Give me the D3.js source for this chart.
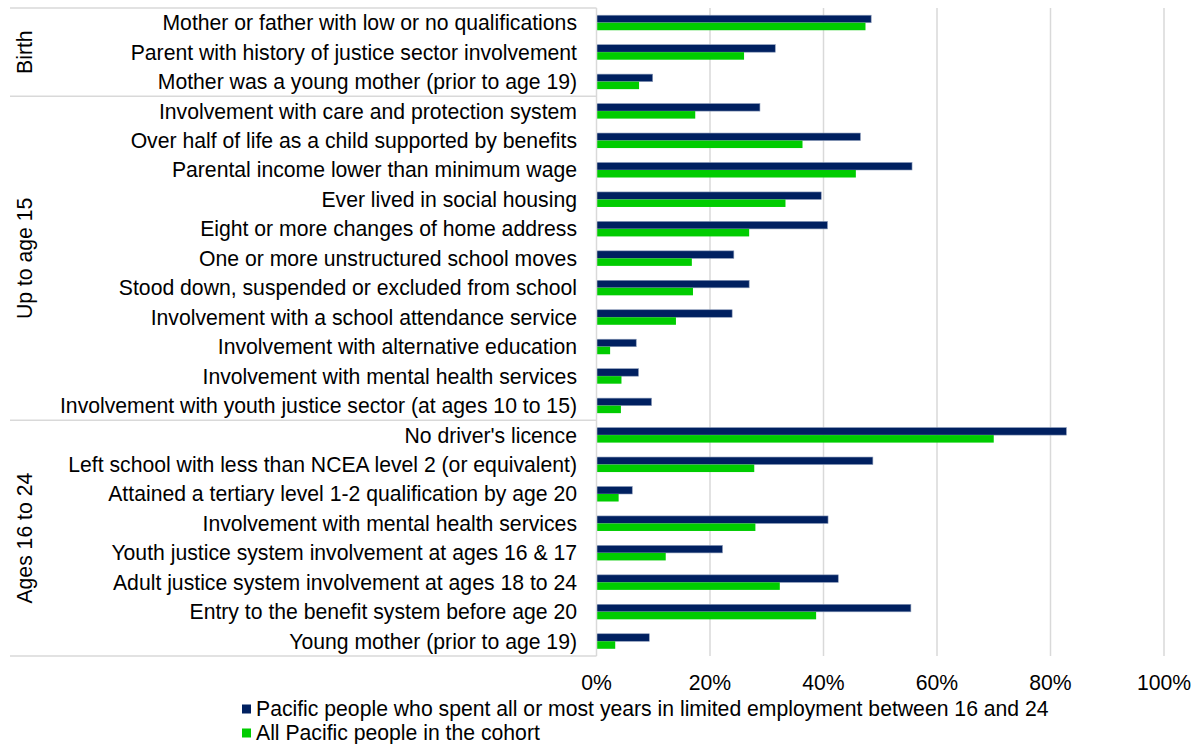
<!DOCTYPE html>
<html>
<head>
<meta charset="utf-8">
<script src="https://d3js.org/d3.v7.min.js"></script>
<style>
  body { margin: 0; background: #fff; }
  text { font-family: "Liberation Sans", Arial, sans-serif; fill: #000; }
</style>
</head>
<body>
<div id="chart"></div>
<script>
// categories, top to bottom
var categories = [
  "Mother or father with low or no qualifications",
  "Parent with history of justice sector involvement",
  "Mother was a young mother (prior to age 19)",
  "Involvement with care and protection system",
  "Over half of life as a child supported by benefits",
  "Parental income lower than minimum wage",
  "Ever lived in social housing",
  "Eight or more changes of home address",
  "One or more unstructured school moves",
  "Stood down, suspended or excluded from school",
  "Involvement with a school attendance service",
  "Involvement with alternative education",
  "Involvement with mental health services",
  "Involvement with youth justice sector (at ages 10 to 15)",
  "No driver's licence",
  "Left school with less than NCEA level 2 (or equivalent)",
  "Attained a tertiary level 1-2 qualification by age 20",
  "Involvement with mental health services",
  "Youth justice system involvement at ages 16 & 17",
  "Adult justice system involvement at ages 18 to 24",
  "Entry to the benefit system before age 20",
  "Young mother (prior to age 19)"
];
var groups = ["Birth", "Up to age 15", "Ages 16 to 24"];
var groupSizes = [3, 11, 8];

var seriesNames = [
  "Pacific people who spent all or most years in limited employment between 16 and 24",
  "All Pacific people in the cohort"
];
var limitedEmp = [48.4, 31.5, 9.9, 28.8, 46.5, 55.6, 39.6, 40.7, 24.2, 26.9, 23.9, 7.0, 7.4, 9.7,
                  82.8, 48.7, 6.3, 40.8, 22.2, 42.6, 55.4, 9.3];
var allPacific = [47.4, 26.0, 7.5, 17.4, 36.3, 45.7, 33.3, 26.9, 16.8, 17.0, 14.0, 2.4, 4.4, 4.3,
                  70.0, 27.8, 3.9, 28.0, 12.2, 32.3, 38.7, 3.3];
var xTicks = [0, 20, 40, 60, 80, 100];
var colors = ["#002060", "#00cc00"];

var width = 1200, height = 744;
var plotLeft = 596.5, plotRight = 1164, plotTop = 8, plotBottom = 656;
var fontSize = "21.2px";

var svg = d3.select("#chart").append("svg")
  .attr("width", width)
  .attr("height", height);

var x = d3.scaleLinear().domain([0, 100]).range([plotLeft, plotRight]);
var y = d3.scaleBand()
  .domain(d3.range(categories.length))
  .range([plotTop, plotBottom])
  .paddingInner(0.49)
  .paddingOuter(0.245);
var ySub = d3.scaleBand().domain([0, 1]).range([0, y.bandwidth()]);

// gridlines
svg.append("g")
  .selectAll("line")
  .data(xTicks.slice(1))
  .enter().append("line")
  .attr("x1", d => x(d)).attr("x2", d => x(d))
  .attr("y1", plotTop).attr("y2", plotBottom)
  .attr("stroke", "#d9d9d9")
  .attr("stroke-width", 1.5);

// bars
var rows = categories.map((c, i) => ({ i: i, vals: [limitedEmp[i], allPacific[i]] }));
var rowG = svg.append("g").selectAll("g")
  .data(rows)
  .enter().append("g")
  .attr("transform", d => "translate(0," + y(d.i) + ")");

rowG.selectAll("rect")
  .data(d => d.vals.map((v, s) => ({ v: v, s: s })))
  .enter().append("rect")
  .attr("x", x(0))
  .attr("y", d => ySub(d.s))
  .attr("width", d => x(d.v) - x(0))
  .attr("height", ySub.bandwidth())
  .attr("fill", d => colors[d.s])
  .attr("stroke", d => d.s === 0 ? "#8a9ab8" : "none")
  .attr("stroke-width", 0.6);

// category axis line
var step = (plotBottom - plotTop) / categories.length;
svg.append("line")
  .attr("x1", plotLeft).attr("x2", plotLeft)
  .attr("y1", plotTop).attr("y2", plotBottom)
  .attr("stroke", "#d9d9d9")
  .attr("stroke-width", 1.5);

// category labels
svg.append("g")
  .selectAll("text")
  .data(categories)
  .enter().append("text")
  .attr("x", 577)
  .attr("y", (d, i) => plotTop + step * (i + 0.5))
  .attr("dy", "0.35em")
  .attr("text-anchor", "end")
  .style("font-size", fontSize)
  .text(d => d);

// group separators and labels
var bounds = [0];
groupSizes.forEach((n, i) => bounds.push(bounds[i] + n));
svg.append("g")
  .selectAll("line")
  .data(bounds)
  .enter().append("line")
  .attr("x1", 10).attr("x2", plotLeft)
  .attr("y1", d => plotTop + step * d)
  .attr("y2", d => plotTop + step * d)
  .attr("stroke", "#d9d9d9")
  .attr("stroke-width", 1.5);

svg.append("g")
  .selectAll("text")
  .data(groups)
  .enter().append("text")
  .attr("transform", (d, i) => {
    var cy = plotTop + step * (bounds[i] + bounds[i + 1]) / 2;
    return "translate(25," + cy + ") rotate(-90)";
  })
  .attr("dy", "0.35em")
  .attr("text-anchor", "middle")
  .style("font-size", fontSize)
  .text(d => d);

// x axis tick labels
svg.append("g")
  .selectAll("text")
  .data(xTicks)
  .enter().append("text")
  .attr("x", d => x(d))
  .attr("y", 683)
  .attr("dy", "0.35em")
  .attr("text-anchor", "middle")
  .style("font-size", fontSize)
  .text(d => d + "%");

// legend
var legend = svg.append("g")
  .selectAll("g")
  .data(seriesNames)
  .enter().append("g")
  .attr("transform", (d, i) => "translate(242," + (709 + i * 24) + ")");
legend.append("rect")
  .attr("x", 0).attr("y", -4.5)
  .attr("width", 9).attr("height", 9)
  .attr("fill", (d, i) => colors[i]);
legend.append("text")
  .attr("x", 14)
  .attr("dy", "0.35em")
  .style("font-size", fontSize)
  .text(d => d);
</script>
</body>
</html>
